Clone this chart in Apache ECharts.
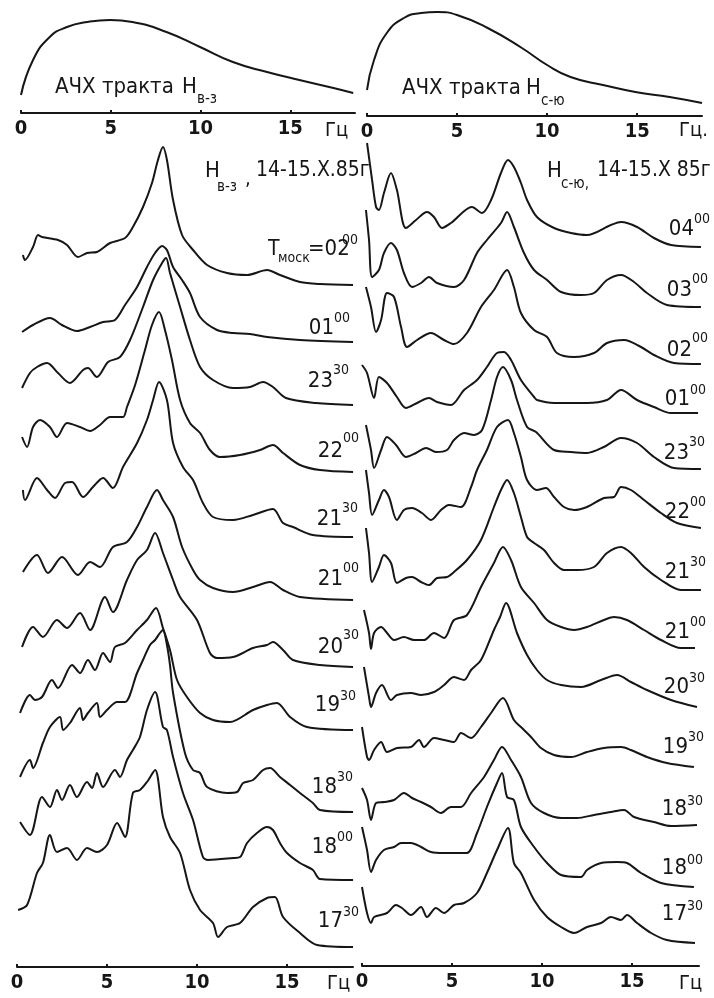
<!DOCTYPE html>
<html>
<head>
<meta charset="utf-8">
<script src="https://cdn.jsdelivr.net/npm/echarts@6/dist/echarts.min.js"></script>
<style>html,body{margin:0;padding:0;background:#fff}#c{width:714px;height:998px}</style>
</head>
<body>
<div id="c"></div>
<script>
// ---------------- DATA (frequency in Hz, amplitude in arbitrary units) ----------------
const hzTicks = [0, 5, 10, 15];

// Frequency responses of the channels (АЧХ тракта)
const achxVZ = [[0,18],[0.67,53],[1.6,76],[2.56,86],[3.7,91],[4.96,93],[6.2,91],[8.1,81],[9.97,66],[11.8,51],[13.7,41],[15.5,33],[17.4,25],[18.5,20]];
const achxSU = [[0,26],[0.39,56],[1.1,83],[2.05,98],[3,103],[3.9,104],[5.0,101],[6.7,88],[8.6,68],[10,51],[11.3,39],[13.1,31],[14.9,24],[16.8,19],[18.6,13]];

// H в-з spectra
const labelsVZ = ['02:00','01:00','23:30','22:00','21:30','21:00','20:30','19:30','18:30','18:00','17:30'];
const vz0200 = [[0.33,30],[0.44,25],[0.89,38],[1.17,50],[1.39,48],[2.28,45],[2.78,40],[3.39,28],[3.89,32],[4.44,33],[5.17,42],[6.0,47],[6.44,58],[7.0,78],[7.5,102],[7.83,125],[8.11,138],[8.33,125],[8.67,85],[9.17,50],[9.78,35],[10.56,20],[11.67,12],[12.78,10],[13.89,15],[14.61,10],[15.72,3],[16.83,1],[18.67,0]];
const vz0100 = [[0.28,10],[0.89,17],[1.83,24],[2.5,17],[3.33,11],[4.06,15],[4.78,20],[5.44,22],[6.0,37],[6.67,55],[7.22,75],[7.67,89],[8.06,96],[8.33,92],[8.67,75],[9.17,62],[9.61,49],[10.17,25],[11.11,12],[12.0,9],[12.94,8],[13.89,5],[15.72,2],[18.67,0]];
const vz2330 = [[0.28,17],[0.72,32],[1.11,38],[1.67,42],[2.28,32],[2.94,22],[3.67,35],[3.94,37],[4.44,28],[5.06,43],[5.72,48],[6.28,65],[7.0,98],[7.56,125],[8.06,142],[8.28,147],[8.5,132],[9.06,98],[9.61,65],[10.17,38],[10.89,25],[12.0,17],[12.94,18],[13.67,23],[14.22,18],[14.94,7],[16.61,2],[18.67,0]];
const vz2200 = [[0.28,35],[0.56,25],[0.89,45],[1.28,52],[1.83,45],[2.22,35],[2.78,49],[3.5,45],[4.06,41],[4.61,47],[5.17,55],[5.89,55],[6.11,65],[6.56,87],[7.11,122],[7.5,147],[7.89,160],[8.22,142],[8.61,112],[9.06,72],[9.61,49],[10.17,39],[10.72,22],[11.28,15],[12.39,17],[13.5,22],[14.22,27],[14.78,19],[15.72,7],[16.83,2],[18.67,0]];
const vz2130 = [[0.33,47],[0.44,37],[1.11,59],[1.67,47],[2.11,39],[2.67,54],[3.06,55],[3.67,40],[4.22,50],[4.78,59],[5.33,49],[5.89,70],[6.67,94],[7.22,117],[7.56,137],[7.89,155],[8.33,137],[8.67,94],[9.22,70],[9.78,57],[10.33,34],[10.89,20],[12.0,17],[13.11,22],[14.22,28],[14.78,14],[15.33,10],[16.44,2],[18.67,0]];
const vz2100 = [[0.33,28],[1.11,45],[1.72,27],[2.5,43],[3.39,25],[4.06,38],[4.61,33],[5.33,53],[6.11,58],[6.67,73],[7.22,93],[7.78,110],[8.11,100],[8.67,83],[9.17,53],[9.78,30],[10.17,20],[10.89,12],[12.0,8],[13.11,13],[14.06,18],[14.78,10],[15.72,3],[18.67,0]];
const vz2030 = [[0.28,20],[0.89,40],[1.44,30],[2.22,47],[2.78,39],[3.5,54],[4.06,37],[4.89,70],[5.33,55],[6.11,87],[6.67,107],[7.22,117],[7.67,134],[8.11,114],[8.67,87],[9.06,70],[10.0,47],[10.72,14],[11.11,9],[12.0,10],[13.11,19],[13.89,22],[14.22,25],[14.78,17],[15.33,7],[16.83,2],[18.67,0]];
const vz1930 = [[0.17,17],[0.72,35],[1.0,30],[1.39,33],[1.94,50],[2.28,42],[3.06,65],[3.5,57],[3.94,70],[4.33,60],[4.78,77],[5.17,68],[5.44,83],[6.0,87],[6.67,100],[7.22,110],[7.72,122],[8.11,102],[8.5,80],[8.89,50],[9.44,33],[10.17,17],[10.89,10],[11.83,8],[13.11,20],[13.89,25],[14.44,27],[15.17,13],[16.11,3],[18.67,0]];
const vz1830 = [[0.17,35],[0.72,52],[0.89,44],[1.44,69],[1.83,85],[2.39,95],[2.56,82],[2.94,89],[3.5,104],[3.67,92],[3.94,99],[4.44,109],[4.61,95],[5.0,102],[5.56,110],[6.0,110],[6.67,139],[7.0,152],[7.39,167],[7.67,172],[7.94,179],[8.11,182],[8.33,167],[8.5,147],[8.67,119],[9.33,59],[9.78,42],[10.17,39],[10.56,25],[11.67,19],[12.22,20],[12.56,29],[13.11,32],[13.67,42],[14.06,44],[14.61,35],[15.17,27],[15.72,19],[16.44,9],[16.83,2],[18.67,0]];
const vz1800 = [[0.17,58],[0.72,45],[1.39,83],[1.83,73],[2.22,90],[2.5,80],[2.94,95],[3.33,83],[3.89,98],[4.17,92],[4.44,107],[4.78,93],[5.44,110],[5.72,103],[6.11,120],[6.44,130],[6.83,143],[7.22,170],[7.67,188],[8.11,153],[8.33,150],[8.67,123],[9.22,87],[9.78,60],[10.33,23],[10.61,20],[12.0,22],[12.39,23],[12.78,37],[13.33,47],[13.89,53],[14.22,50],[14.61,37],[15.0,27],[15.72,17],[16.44,10],[16.83,1],[18.67,0]];
const vz1730 = [[0.06,37],[0.56,42],[1.11,74],[1.44,84],[1.83,112],[2.22,95],[2.78,99],[3.33,87],[3.89,99],[4.44,95],[5.0,102],[5.56,124],[6.0,110],[6.44,154],[6.83,157],[7.22,165],[7.67,177],[8.11,130],[8.5,110],[9.06,94],[9.61,57],[10.17,37],[10.89,24],[11.17,10],[11.67,20],[12.39,24],[13.11,40],[13.89,49],[14.33,50],[14.78,30],[15.72,14],[16.67,2],[18.67,0]];

// H с-ю spectra
const labelsSU = ['04:00','03:00','02:00','01:00','23:30','22:00','21:30','21:00','20:30','19:30','18:30','18:00','17:30'];
const su0400 = [[0.28,104],[0.56,67],[0.78,40],[0.94,37],[1.22,54],[1.61,74],[1.94,57],[2.44,19],[3.0,27],[3.61,35],[4.0,30],[4.44,19],[4.94,24],[6.11,40],[6.67,34],[7.17,47],[7.72,74],[8.11,87],[8.44,80],[8.83,64],[9.17,47],[9.72,30],[10.67,19],[11.61,14],[12.5,12],[13.83,22],[14.39,25],[15.28,20],[16.22,9],[17.17,2],[18.83,0]];
const su0300 = [[0.22,98],[0.39,68],[0.56,31],[0.94,38],[1.22,55],[1.61,65],[1.94,58],[2.33,35],[2.78,21],[3.28,25],[3.72,31],[4.17,25],[5.11,21],[5.67,28],[6.39,55],[6.94,68],[7.72,85],[8.06,96],[8.44,81],[9.0,55],[9.56,38],[10.28,28],[11.06,16],[12.17,13],[12.89,15],[13.61,28],[14.39,33],[15.11,26],[15.83,15],[16.94,3],[18.83,1]];
const su0200 = [[0.22,77],[0.5,57],[0.78,32],[1.06,44],[1.39,71],[1.78,67],[2.17,37],[2.5,17],[3.06,24],[3.83,31],[4.56,24],[5.11,20],[5.83,31],[6.61,57],[7.33,74],[8.06,94],[8.44,77],[8.83,51],[9.56,34],[10.28,27],[10.83,11],[11.78,7],[12.89,11],[13.61,21],[14.56,24],[15.5,17],[16.22,9],[17.33,1],[18.83,0]];
const su0100 = [[0.0,49],[0.28,41],[0.67,16],[0.94,37],[1.39,31],[1.94,17],[2.44,6],[3.06,11],[3.72,16],[4.17,12],[4.94,9],[5.67,24],[6.39,34],[6.94,47],[7.5,61],[7.89,62],[8.28,54],[8.83,34],[9.56,17],[9.72,14],[10.67,11],[12.5,11],[13.61,14],[14.39,24],[15.28,14],[16.22,7],[17.17,1],[18.67,1]];
const su2330 = [[0.22,44],[0.5,19],[0.67,1],[1.06,19],[1.39,32],[1.89,24],[2.44,12],[3.0,16],[3.56,21],[4.11,17],[4.72,19],[5.11,29],[5.67,36],[6.22,34],[6.67,39],[7.17,69],[7.5,92],[7.83,102],[8.28,89],[8.61,69],[9.17,42],[9.67,37],[10.67,19],[11.61,17],[12.5,16],[13.44,22],[14.39,31],[15.28,26],[16.22,12],[17.33,1],[18.83,0]];
const su2200 = [[0.22,58],[0.39,35],[0.56,13],[0.94,28],[1.22,38],[1.5,31],[1.94,8],[2.33,18],[2.78,20],[3.33,15],[3.83,8],[4.39,18],[4.83,23],[5.5,21],[6.06,41],[6.39,58],[6.94,78],[7.5,101],[8.11,108],[8.44,95],[8.83,71],[9.17,48],[9.72,38],[10.22,40],[10.67,31],[11.22,21],[11.78,18],[12.5,21],[13.44,30],[14.0,31],[14.39,41],[14.94,38],[15.67,28],[16.61,15],[17.5,5],[18.83,0]];
const su2130 = [[0.22,63],[0.39,38],[0.56,9],[0.94,24],[1.22,36],[1.61,28],[1.94,8],[2.44,13],[2.78,14],[3.28,9],[3.72,6],[4.17,13],[4.72,14],[5.11,19],[5.83,31],[6.61,51],[7.33,84],[7.72,101],[8.06,111],[8.44,98],[8.83,74],[9.17,54],[9.56,48],[10.11,41],[10.67,28],[11.22,21],[11.94,21],[12.89,24],[13.61,38],[14.39,44],[14.94,38],[15.67,24],[16.61,11],[17.72,1],[18.83,1]];
const su2100 = [[0.11,39],[0.39,16],[0.5,0],[0.67,16],[1.06,22],[1.39,16],[1.78,9],[2.33,12],[2.89,9],[3.44,9],[4.0,16],[4.56,11],[5.11,29],[5.83,34],[6.61,62],[7.33,86],[7.83,102],[8.28,89],[8.83,62],[9.56,46],[10.28,29],[11.06,22],[11.78,19],[12.5,22],[13.44,29],[14.0,32],[14.72,29],[15.67,19],[16.61,9],[17.72,1],[18.5,1]];
const su2030 = [[0.11,40],[0.39,10],[0.5,0],[0.78,14],[1.11,22],[1.61,7],[1.94,12],[2.72,14],[3.28,12],[4.0,15],[4.56,22],[5.11,30],[5.67,27],[6.06,37],[6.61,47],[7.17,70],[7.33,77],[7.67,90],[8.0,104],[8.61,74],[9.17,52],[9.72,37],[10.28,27],[11.06,22],[12.17,20],[13.28,27],[14.17,32],[14.94,25],[15.83,17],[17.17,7],[18.61,0]];
const su1930 = [[0.0,40],[0.28,10],[0.39,7],[0.67,17],[1.06,25],[1.39,15],[1.94,19],[2.72,20],[3.17,27],[3.44,20],[4.0,29],[4.56,27],[5.11,25],[5.5,34],[6.06,29],[6.61,40],[7.17,54],[7.83,69],[8.44,47],[8.83,40],[9.39,30],[9.94,19],[10.67,12],[11.61,10],[12.5,15],[13.44,19],[14.39,20],[14.94,17],[15.83,10],[16.94,4],[18.44,0]];
const su1830 = [[0.0,38],[0.28,26],[0.5,6],[0.78,23],[1.22,24],[1.78,26],[2.33,33],[2.78,28],[3.28,24],[3.83,19],[4.39,13],[4.94,19],[5.5,19],[6.06,33],[6.78,49],[7.33,66],[7.78,79],[8.28,66],[8.83,49],[9.39,23],[10.11,13],[11.06,8],[11.94,8],[12.89,11],[13.83,14],[14.56,16],[15.11,9],[16.22,4],[17.17,0],[18.61,1]];
const su1800 = [[0.0,60],[0.28,37],[0.5,15],[0.78,27],[1.22,37],[1.78,40],[2.17,44],[2.72,44],[3.28,40],[3.83,35],[4.56,34],[5.11,34],[5.83,34],[6.39,54],[6.94,80],[7.5,104],[7.78,114],[8.06,90],[8.44,87],[8.83,60],[9.56,40],[10.28,24],[11.06,12],[12.17,10],[12.5,17],[13.28,24],[14.17,25],[14.72,24],[15.5,14],[16.61,4],[18.44,0]];
const su1730 = [[0.0,56],[0.28,30],[0.5,20],[0.67,26],[1.39,30],[1.89,38],[2.22,35],[2.72,28],[3.28,36],[3.61,26],[4.11,35],[4.56,30],[5.11,38],[5.67,40],[6.39,50],[6.94,70],[7.5,93],[8.11,115],[8.44,80],[8.83,70],[9.56,43],[10.28,26],[11.06,16],[11.78,10],[12.5,16],[13.28,20],[13.83,26],[14.39,23],[14.72,28],[15.28,20],[16.06,10],[16.94,3],[18.5,0]];

const curvesVZ = [vz0200, vz0100, vz2330, vz2200, vz2130, vz2100, vz2030, vz1930, vz1830, vz1800, vz1730];
const curvesSU = [su0400, su0300, su0200, su0100, su2330, su2200, su2130, su2100, su2030, su1930, su1830, su1800, su1730];

// ---------------- LAYOUT (pixels) ----------------
const INK = '#161616';
const PXHZ = 18;
const CURVE_H = 200;
const baseVZ = [285, 342, 405, 472, 537, 600, 667, 730, 812, 880, 947];
const baseSU = [247, 308, 364, 414, 469, 528, 591, 649, 707, 767, 826, 887, 943];
const labPosVZ = [null, [334,328,318], [333,381,370], [343,451,438], [342,519,508], [343,579,568], [343,647,635], [340,705,696], [337,787,777], [337,847,837], [343,921,912]];
const labPosSU = [[694,229,219],[692,290,279],[692,350,338],[690,399,390],[689,453,442],[690,512,502],[690,572,562],[690,632,622],[689,687,678],[688,747,737],[687,809,801],[687,868,860],[687,914,906]];
const NARROW = '"Liberation Sans Narrow", "DejaVu Sans Condensed", sans-serif';
const COND = '"DejaVu Sans Condensed", "Liberation Sans Narrow", sans-serif';

const grids = [], xAxes = [], yAxes = [], series = [];
function addGrid(g, xa, ya) {
  const i = grids.length;
  grids.push(Object.assign({outerBoundsMode: 'none', containLabel: false}, g));
  xAxes.push(Object.assign({gridIndex: i, type: 'value'}, xa));
  yAxes.push(Object.assign({gridIndex: i, type: 'value'}, ya));
  return i;
}
function lineSeries(gi, data, w, sm) {
  series.push({type: 'line', xAxisIndex: gi, yAxisIndex: gi, data: data, showSymbol: false,
    smooth: sm || 0.3, silent: true, animation: false, clip: false,
    lineStyle: {color: INK, width: w || 2}});
}
function hzAxis(max) {
  return {min: 0, max: max, position: 'bottom',
    axisLine: {show: true, onZero: false, lineStyle: {color: INK, width: 2}},
    axisTick: {show: true, inside: true, length: 3, customValues: hzTicks, lineStyle: {color: INK, width: 2}},
    axisLabel: {show: true, customValues: hzTicks, color: INK, fontFamily: NARROW, fontSize: 20, fontWeight: 'bold', margin: 6},
    splitLine: {show: false}};
}
const hiddenY = (m) => ({min: 0, max: m, show: false});

// Top frequency-response panels
let g = addGrid({left: 21, top: 3, width: 334, height: 110}, hzAxis(18.6), hiddenY(110));
lineSeries(g, achxVZ, 2, 0.5);
g = addGrid({left: 367, top: 6, width: 335, height: 110}, hzAxis(18.6), hiddenY(110));
lineSeries(g, achxSU, 2, 0.5);

// Bottom axes
g = addGrid({left: 17, top: 867, width: 336, height: 100}, hzAxis(18.67), hiddenY(100));
series.push({type: 'line', xAxisIndex: g, yAxisIndex: g, data: []});
g = addGrid({left: 362, top: 866, width: 337, height: 100}, hzAxis(18.72), hiddenY(100));
series.push({type: 'line', xAxisIndex: g, yAxisIndex: g, data: []});

// Stacked spectra: one hidden grid per curve, baseline at its place
curvesVZ.forEach((d, i) => {
  const gi = addGrid({left: 17, top: baseVZ[i] - CURVE_H, width: 19 * PXHZ, height: CURVE_H},
    {min: 0, max: 19, show: false}, hiddenY(CURVE_H));
  lineSeries(gi, d);
});
curvesSU.forEach((d, i) => {
  const gi = addGrid({left: 362, top: baseSU[i] - CURVE_H, width: 19 * PXHZ, height: CURVE_H},
    {min: 0, max: 19, show: false}, hiddenY(CURVE_H));
  lineSeries(gi, d);
});

// Texts
function T(str, x, y, size, fam, align) {
  return {type: 'text', x: x, y: y, silent: true, z: 100,
    style: {text: str, fill: INK, font: size + 'px ' + fam,
      textAlign: align || 'left', align: align || 'left', textVerticalAlign: 'middle', verticalAlign: 'middle'}};
}
const texts = [];
texts.push(T('АЧХ тракта', 55, 87, 22, NARROW));
texts.push(T('H', 182, 87, 22, NARROW));
texts.push(T('в-з', 197, 99, 15, NARROW));
texts.push(T('АЧХ тракта', 402, 88, 22, NARROW));
texts.push(T('H', 526, 88, 22, NARROW));
texts.push(T('с-ю', 541, 101, 15, NARROW));
texts.push(T('Гц', 325, 131, 20, NARROW));
texts.push(T('Гц.', 679, 131, 20, NARROW));
texts.push(T('Гц', 327, 984, 20, NARROW));
texts.push(T('Гц', 679, 984, 20, NARROW));
texts.push(T('H', 205, 171, 22, NARROW));
texts.push(T('в-з', 217, 187, 15, NARROW));
texts.push(T(',', 245, 180, 20, NARROW));
texts.push(T('14-15.X.85г', 256, 171, 21, NARROW));
texts.push(T('H', 547, 171, 22, NARROW));
texts.push(T('с-ю,', 561, 184, 15, NARROW));
texts.push(T('14-15.X 85г', 597, 171, 21, NARROW));
texts.push(T('T', 268, 250, 21, NARROW));
texts.push(T('моск', 278, 258, 14, NARROW));
texts.push(T('=02', 308, 249, 22, COND));
texts.push(T(labelsVZ[0].split(':')[1], 342, 240, 14, COND));
labelsVZ.forEach((s, i) => {
  const p = labPosVZ[i]; if (!p) return;
  const parts = s.split(':');
  texts.push(T(parts[0], p[0], p[1], 22, COND, 'right'));
  texts.push(T(parts[1], p[0], p[2], 14, COND, 'left'));
});
labelsSU.forEach((s, i) => {
  const p = labPosSU[i];
  const parts = s.split(':');
  texts.push(T(parts[0], p[0], p[1], 22, COND, 'right'));
  texts.push(T(parts[1], p[0], p[2], 14, COND, 'left'));
});

const chart = echarts.init(document.getElementById('c'), null, {renderer: 'canvas'});
chart.setOption({
  backgroundColor: '#ffffff',
  animation: false,
  grid: grids, xAxis: xAxes, yAxis: yAxes, series: series,
  graphic: {elements: texts}
});
</script>
</body>
</html>
